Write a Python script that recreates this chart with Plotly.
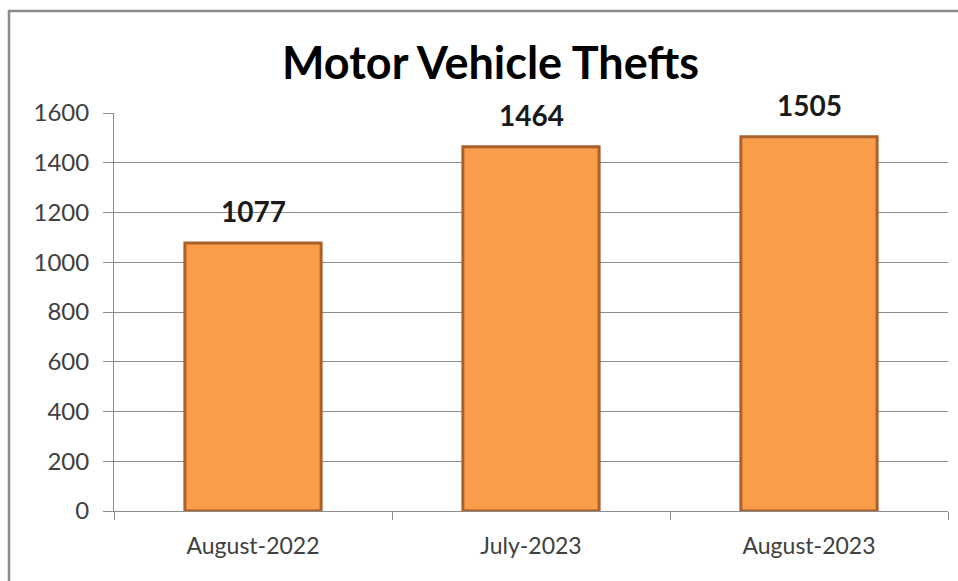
import plotly.graph_objects as go

categories = ["August-2022", "July-2023", "August-2023"]
thefts = [1077, 1464, 1505]
y_ticks = [0, 200, 400, 600, 800, 1000, 1200, 1400, 1600]
title_text = "Motor Vehicle Thefts"

W, H = 958, 581
L, R, T, B = 114, 10, 113, 70
pw, ph = W - L - R, H - T - B

fig = go.Figure()
fig.add_trace(go.Bar(
    x=categories, y=thefts,
    marker=dict(color="#FA9D4B", line=dict(color="#A9602A", width=3)),
    width=0.49, hoverinfo="skip"))

for c, v in zip(categories, thefts):
    fig.add_annotation(x=c, y=v, text=str(v), showarrow=False, yshift=32,
                       font=dict(family="Lato", size=28, color="#1a1a1a", weight="bold"))

def px2x(p): return (p - L) / pw
def px2y(p): return (511 - p) / ph

fig.add_annotation(x=px2x(490), y=px2y(62), xref="paper", yref="paper", text=title_text,
                   xanchor="center", yanchor="middle",
                   showarrow=False, font=dict(family="Lato", size=45, color="#000000", weight="bold"))

fig.add_shape(type="rect", xref="paper", yref="paper",
              x0=px2x(9), x1=px2x(975), y0=px2y(11), y1=px2y(600),
              line=dict(color="#8a8a8a", width=2.5), fillcolor="rgba(0,0,0,0)", layer="below")

fig.update_layout(
    width=W, height=H, margin=dict(l=L, r=R, t=T, b=B),
    paper_bgcolor="white", plot_bgcolor="white", showlegend=False,
    bargap=0.51,
    xaxis=dict(showline=True, linecolor="#8c8c8c", linewidth=1, ticks="outside",
               tickson="boundaries", ticklen=8, tickcolor="#8c8c8c", ticklabelstandoff=14,
               tickfont=dict(family="Lato", size=23, color="#404040"), showgrid=False),
    yaxis=dict(range=[0, 1600], tickvals=y_ticks, showline=True, linecolor="#8c8c8c",
               ticks="outside", ticklen=10, tickcolor="#8c8c8c", gridcolor="#8c8c8c",
               gridwidth=1, tickfont=dict(family="Lato", size=24, color="#404040"),
               ticklabelstandoff=9, zeroline=False),
)
fig.write_html("out.html", config={"displayModeBar": False},
               post_script="document.body.style.margin='0';")
